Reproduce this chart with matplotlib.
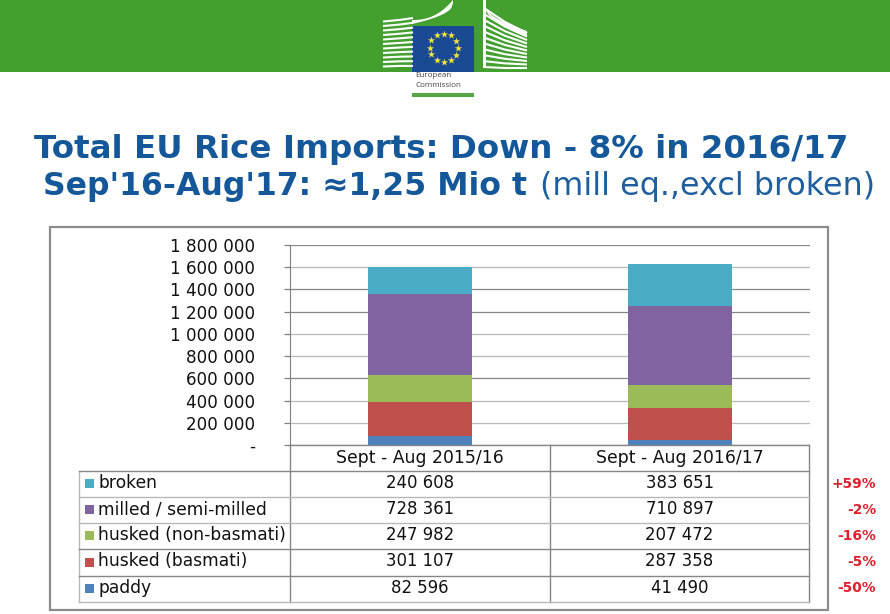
import numpy as np
import matplotlib
matplotlib.use("Agg")
import matplotlib.pyplot as plt
from matplotlib.patches import Rectangle, Polygon

W, H = 890, 614

periods = ["Sept - Aug 2015/16", "Sept - Aug 2016/17"]
categories = ["paddy", "husked (basmati)", "husked (non-basmati)", "milled / semi-milled", "broken"]
values_1516 = [82596, 301107, 247982, 728361, 240608]
values_1617 = [41490, 287358, 207472, 710897, 383651]
changes = ["-50%", "-5%", "-16%", "-2%", "+59%"]
colors = ["#4f81bd", "#c0504d", "#9bbb59", "#8064a2", "#4bacc6"]
yticks = [0, 200000, 400000, 600000, 800000, 1000000, 1200000, 1400000, 1600000, 1800000]

plt.rcParams["font.family"] = ["DejaVu Sans"]

DARK = "#868686"
LIGHT = "#b8b8b8"
TEXT = "#111111"
BLUE = "#15589a"


def fmt(v):
    return f"{v:,}".replace(",", " ")


fig = plt.figure(figsize=(W / 100, H / 100), dpi=100)

# Full figure layer in pixel coordinates, for the slide furniture
bg = fig.add_axes([0, 0, 1, 1], zorder=0)
bg.set_xlim(0, W)
bg.set_ylim(H, 0)
bg.axis("off")

# green band and logo
bg.add_patch(Rectangle((0, 0), W, 72, color="#43a02f", lw=0))
for i in range(11):
    # left wing, stripes run behind the flag
    y0 = 21.5 + i * 4.5
    bg.plot([383, 400, 413], [y0, y0 - 1.6 + i * 0.1, y0 - 3.5 + i * 0.3], color="white", lw=1.5, solid_capstyle="butt")
    # right wing, stripes fan out from the tall edge
    yl = 8 + i * 5.9
    yr = 33 + i * 3.5
    bg.plot([484, 505, 527], [yl, (yl + yr) / 2 + 1.5 - i * 0.1, yr], color="white", lw=1.5, solid_capstyle="butt")
curve = np.linspace(0, 1, 25)
bg.add_patch(Polygon(list(zip(412 + 41 * curve, 20 - 20 * curve ** 2.4)) + list(zip(453 - 41 * curve, 3 + 21 * curve ** 0.45)),
                     color="white", lw=0))
bg.add_patch(Polygon(list(zip(483 + 44 * curve, 31 * curve ** 0.45)) + [(527, 36)] + list(zip(483 + 44 * curve[::-1], 37 * curve[::-1] ** 0.45)),
                     color="white", lw=0))
bg.add_patch(Rectangle((483, 0), 3, 68, color="white", lw=0))
bg.add_patch(Rectangle((412, 26), 62, 46, color="#1a4a94", lw=0))
bg.add_patch(Rectangle((412, 72), 62, 21, color="white", lw=0))
bg.add_patch(Rectangle((412, 93), 62, 4, color="#55a544", lw=0))
angles = np.linspace(0, 2 * np.pi, 12, endpoint=False)
bg.scatter(443.5 + 14 * np.sin(angles), 47.5 + 14 * np.cos(angles), marker="*", s=30, color="#f5e63a", lw=0)
bg.text(415, 75.5, "European", fontsize=5.8, family="Open Sans", color="#444444", va="center")
bg.text(415, 85.5, "Commission", fontsize=5.8, family="Open Sans", color="#444444", va="center")

# headline
bg.text(34, 158, "Total EU Rice Imports: Down - 8% in 2016/17", fontsize=23.4, fontweight="bold",
        color=BLUE, va="baseline")
bg.text(43, 195, "Sep'16-Aug'17: ≈1,25 Mio t", fontsize=22.7, fontweight="bold", color=BLUE, va="baseline")
bg.text(540, 195, "(mill eq.,excl broken)", fontsize=22.9, color="#1f5f9e", va="baseline")

# chart frame
bg.add_patch(Rectangle((50, 227), 778, 383, fc="white", ec="#8c8c8c", lw=1.6))

# stacked bars
ax = fig.add_axes([290 / W, 1 - 445 / H, 520 / W, 200 / H], zorder=1)
ax.patch.set_alpha(0)
x = np.arange(len(periods))
bottom = np.zeros(2)
for name, a, b, c in zip(categories, values_1516, values_1617, colors):
    ax.bar(x, [a, b], width=0.4, bottom=bottom, color=c, zorder=3)
    bottom += [a, b]
ax.set_xlim(-0.5, 1.5)
ax.set_ylim(0, 1800000)
ax.set_yticks(yticks)
ax.set_yticklabels(["-" if t == 0 else fmt(t) for t in yticks], fontsize=12.1, color=TEXT)
ax.set_xticks([])
ax.grid(axis="y", lw=0.9, zorder=0)
ax.set_axisbelow(True)
ax.tick_params(axis="y", length=4.3, color="#808080", width=0.9, pad=21)
# the scaled screenshot leaves some gridlines darker than others
for t, g in zip(yticks, ax.get_ygridlines()):
    g.set_color(DARK if t in (0, 600000, 1200000, 1400000, 1800000) else LIGHT)
for s in ["top", "right", "bottom"]:
    ax.spines[s].set_visible(False)
ax.spines["left"].set_color("#808080")

# data table under the chart
x_lab, x_a, x_b, x_end = 79, 290, 550, 809
row_y = [471, 497, 523, 549, 576, 602]
row_c = [DARK, LIGHT, LIGHT, DARK, DARK, LIGHT]
bg.plot([x_a, x_end], [445, 445], color=DARK, lw=1, zorder=1)
for xv in [x_a, x_b, x_end]:
    bg.plot([xv, xv], [445, 602], color=DARK, lw=1)
bg.plot([x_lab, x_lab], [row_y[0], row_y[-1]], color=LIGHT, lw=1)
for yv, c in zip(row_y, row_c):
    bg.plot([x_lab, x_end], [yv, yv], color=c, lw=1)
for i, p in enumerate(periods):
    bg.text((x_a + x_b) / 2 if i == 0 else (x_b + x_end) / 2, 458, p, fontsize=12.4, ha="center", va="center",
            color=TEXT)
for i in range(len(categories)):
    k = len(categories) - 1 - i
    yc = (row_y[i] + row_y[i + 1]) / 2 - 1
    bg.add_patch(Rectangle((85, yc - 4), 9, 9, color=colors[k], lw=0))
    bg.text(98, yc, categories[k], fontsize=12.3, va="center", color=TEXT)
    bg.text((x_a + x_b) / 2, yc, fmt(values_1516[k]), fontsize=11.9, ha="center", va="center", color=TEXT)
    bg.text((x_b + x_end) / 2, yc, fmt(values_1617[k]), fontsize=11.9, ha="center", va="center", color=TEXT)
    bg.text(876, yc + 0.5, changes[k], fontsize=9.9, fontweight="bold", ha="right", va="center", color="#e0202c")

bg.set_xlim(0, W)
bg.set_ylim(H, 0)
fig.savefig("out.png", dpi=100)
